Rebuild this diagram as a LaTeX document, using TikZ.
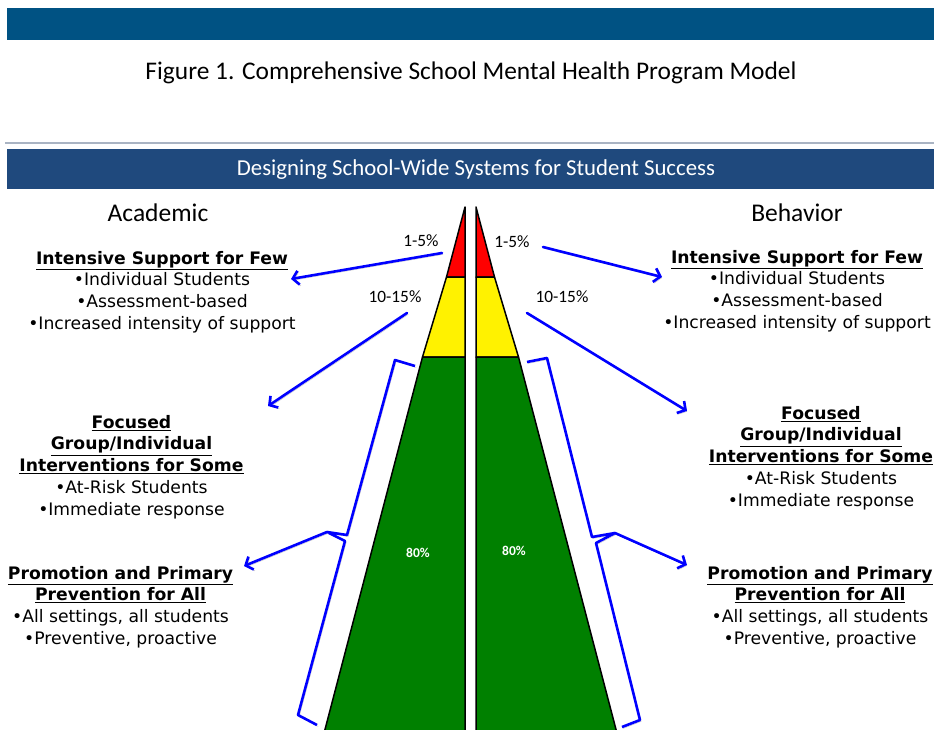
\documentclass[tikz,border=0pt]{standalone}
\usepackage{fontspec}
\setmainfont{DejaVu Sans}
\newfontfamily\calibri{Carlito}
\usetikzlibrary{arrows.meta, positioning, calc}

\definecolor{topbar}{RGB}{0,82,131}
\definecolor{bannerblue}{RGB}{31,73,125}
\definecolor{rulegray}{RGB}{170,180,195}
\definecolor{tiergreen}{RGB}{0,128,0}

\tikzset{
  blurb/.style={align=center, inner sep=0pt, anchor=north, font=\fontsize{17.2}{21.7}\selectfont},
  pct/.style={font=\calibri\fontsize{17.3}{19}\selectfont},
  shadowed/.style={preaction={draw=black!25, transform canvas={shift={(1.2pt,-1.4pt)}}}},
  bluearrow/.style={draw=blue, line width=2.6pt, line cap=round, shadowed,
    -{Straight Barb[length=6pt,width=14pt]}},
  bracket/.style={draw=blue, line width=2.6pt, line join=round, shadowed},
  tier/.style={draw=black, line width=1.5pt, line join=round},
}

\begin{document}
\begin{tikzpicture}[x=1pt, y=-1pt]
    \useasboundingbox (0,0) rectangle (934,729);

    % Header bars and titles
    \fill[topbar] (7,8) rectangle (940,40);
    \node[font=\calibri\fontsize{25.4}{28}\selectfont] (title) at (471,73) {Figure 1. Comprehensive School Mental Health Program Model};
    \draw[rulegray, line width=2pt] (5,143) -- (940,143);
    \fill[bannerblue] (7,149) rectangle (940,189);
    \node[font=\calibri\fontsize{22.8}{26}\selectfont, text=white] (banner) at (476,170) {Designing School-Wide Systems for Student Success};

    \node[font=\calibri\fontsize{25.5}{28}\selectfont] (academic) at (158,213) {Academic};
    \node[font=\calibri\fontsize{25.5}{28}\selectfont] (behavior) at (797,213) {Behavior};

    % Two half pyramids: red / yellow / green tiers
    \foreach \s/\b in {-1/465, 1/476} {
        \filldraw[tier, fill=red] (\b,207) -- (\b+\s*18.5,277) -- (\b,277) -- cycle;
        \filldraw[tier, fill=yellow] (\b+\s*18.5,277) -- (\b+\s*42.5,357) -- (\b,357) -- (\b,277) -- cycle;
        \filldraw[tier, fill=tiergreen] (\b+\s*42.5,357) -- (\b+\s*148,760) -- (\b,760) -- (\b,357) -- cycle;
    }

    % Percent labels
    \node[pct] (fewL) at (421,241) {1-5\%};
    \node[pct] (fewR) at (512,242) {1-5\%};
    \node[pct] (someL) at (395,297) {10-15\%};
    \node[pct] (someR) at (562,297) {10-15\%};
    \node[font=\calibri\bfseries\fontsize{13.5}{16}\selectfont, text=white] (allL) at (418,553) {80\%};
    \node[font=\calibri\bfseries\fontsize{13.5}{16}\selectfont, text=white] (allR) at (514,551) {80\%};

    % Academic side
    \node[blurb] (intensiveL) at (162,251) {\underline{\textbf{Intensive Support for Few}}\\
        •Individual Students\\ •Assessment-based\\ •Increased intensity of support};
    \node[blurb] (focusedL) at (131.5,415) {\underline{\textbf{Focused}}\\ \underline{\textbf{Group/Individual}}\\
        \underline{\textbf{Interventions for Some}}\\ •At-Risk Students\\ •Immediate response};
    \node[blurb] (primaryL) at (120.5,566) {\underline{\textbf{Promotion and Primary}}\\ \underline{\textbf{Prevention for All}}\\
        •All settings, all students\\ •Preventive, proactive};

    % Behavior side
    \node[blurb] (intensiveR) at (797,250) {\underline{\textbf{Intensive Support for Few}}\\
        •Individual Students\\ •Assessment-based\\ •Increased intensity of support};
    \node[blurb] (focusedR) at (821,406) {\underline{\textbf{Focused}}\\ \underline{\textbf{Group/Individual}}\\
        \underline{\textbf{Interventions for Some}}\\ •At-Risk Students\\ •Immediate response};
    \node[blurb] (primaryR) at (820,566) {\underline{\textbf{Promotion and Primary}}\\ \underline{\textbf{Prevention for All}}\\
        •All settings, all students\\ •Preventive, proactive};

    % Brackets round the green tier
    \coordinate (brkL) at (327,532);
    \coordinate (brkR) at (615,533);
    \draw[bracket] (415,366) -- (395,360) -- (347,535) -- (brkL) -- (345,541) -- (298,715) -- (317,725);
    \draw[bracket] (527,362) -- (547,358) -- (592,537) -- (brkR) -- (596,543) -- (640,720) -- (622,727);

    % Arrow ends
    \coordinate (fewLs) at (442,253);  \coordinate (fewLe) at (291,279);
    \coordinate (fewRs) at (543,247);  \coordinate (fewRe) at (662,277);
    \coordinate (someLs) at (407,313); \coordinate (someLe) at (268,406);
    \coordinate (someRs) at (527,313); \coordinate (someRe) at (687,411);
    \coordinate (allLe) at (244,566);
    \coordinate (allRe) at (687,565);

    % Arrows out to the text blocks
    \draw[bluearrow] (fewLs) -- (fewLe);
    \draw[bluearrow] (fewRs) -- (fewRe);
    \draw[bluearrow] (someLs) -- (someLe);
    \draw[bluearrow] (someRs) -- (someRe);
    \draw[bluearrow] (brkL) -- (allLe);
    \draw[bluearrow] (brkR) -- (allRe);
\end{tikzpicture}
\end{document}
